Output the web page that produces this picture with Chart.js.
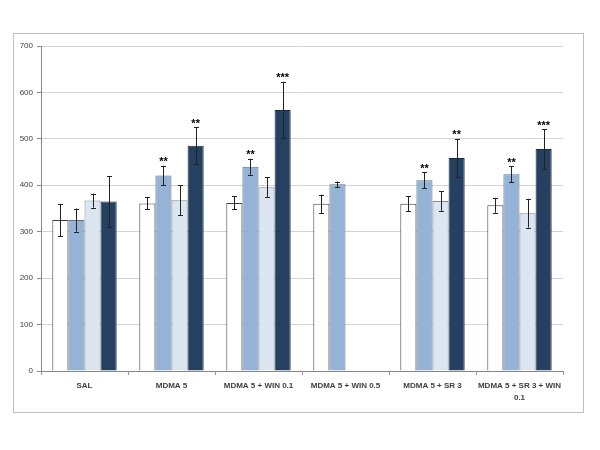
<!DOCTYPE html>
<html>
<head>
<meta charset="utf-8">
<script src="https://cdn.jsdelivr.net/npm/chart.js@4"></script>
<style>
  body { margin: 0; background: #fff; }
  #frame { position: absolute; left: 13px; top: 33px; width: 569px; height: 378px; border: 1px solid #bfbfbf; }
  #chart { position: absolute; left: 0; top: 0; }
</style>
</head>
<body>
<div id="frame"></div>
<canvas id="chart" width="600" height="450"></canvas>
<script>
// Grupos del eje X
const categories = ['SAL', 'MDMA 5', 'MDMA 5 + WIN 0.1', 'MDMA 5 + WIN 0.5', 'MDMA 5 + SR 3', ['MDMA 5 + SR 3 + WIN', '0.1']];

// Valores de cada serie (null = sin barra)
const series1 = [325, 361, 362, 360, 360, 357];
const series2 = [325, 421, 440, 402, 411, 424];
const series3 = [367, 368, 396, null, 366, 340];
const series4 = [365, 485, 562, null, 459, 478];

// Errores (SEM)
const err1 = [35, 13, 14, 20, 16, 16];
const err2 = [25, 21, 17, 6, 17, 17];
const err3 = [15, 32, 21, null, 21, 31];
const err4 = [55, 40, 61, null, 41, 43];

// Marcas de significancia
const stars1 = ['', '', '', '', '', ''];
const stars2 = ['', '**', '**', '', '**', '**'];
const stars3 = ['', '', '', '', '', ''];
const stars4 = ['', '**', '***', '', '**', '***'];

const yTicks = [0, 100, 200, 300, 400, 500, 600, 700];

const errors = [err1, err2, err3, err4];
const stars = [stars1, stars2, stars3, stars4];

// Plugin para barras de error y asteriscos
const errorBarsPlugin = {
    id: 'errorBars',
    afterDatasetsDraw(chart) {
        const ctx = chart.ctx;
        const yScale = chart.scales.y;
        ctx.save();
        chart.data.datasets.forEach((ds, di) => {
            const meta = chart.getDatasetMeta(di);
            meta.data.forEach((bar, i) => {
                const v = ds.data[i];
                const e = errors[di][i];
                if (v == null || e == null) return;
                const x = Math.round(bar.x) + 0.5;
                const yTop = yScale.getPixelForValue(v + e);
                const yBot = yScale.getPixelForValue(v - e);
                ctx.strokeStyle = '#222';
                ctx.lineWidth = 1;
                ctx.beginPath();
                ctx.moveTo(x, yTop);
                ctx.lineTo(x, yBot);
                ctx.moveTo(x - 2.5, Math.round(yTop) + 0.5);
                ctx.lineTo(x + 2.5, Math.round(yTop) + 0.5);
                ctx.moveTo(x - 2.5, Math.round(yBot) + 0.5);
                ctx.lineTo(x + 2.5, Math.round(yBot) + 0.5);
                ctx.stroke();

                const s = stars[di][i];
                if (s) {
                    ctx.fillStyle = '#000';
                    ctx.font = 'bold 11px "Liberation Sans"';
                    ctx.textAlign = 'center';
                    ctx.textBaseline = 'top';
                    ctx.fillText(s, bar.x, yTop - 9);
                }
            });
        });
        ctx.restore();
    }
};

const ctx = document.getElementById('chart').getContext('2d');
new Chart(ctx, {
    type: 'bar',
    data: {
        labels: categories,
        datasets: [
            { data: series1, backgroundColor: '#ffffff', borderColor: '#404040', borderWidth: 1 },
            { data: series2, backgroundColor: '#95b3d7', borderColor: '#5f6f82', borderWidth: 1 },
            { data: series3, backgroundColor: '#dce6f2', borderColor: '#7f8790', borderWidth: 1 },
            { data: series4, backgroundColor: '#254061', borderColor: '#1a2a3f', borderWidth: 1 }
        ]
    },
    options: {
        responsive: false,
        animation: false,
        layout: { padding: { top: 46, right: 37, left: 0, bottom: 0 } },
        datasets: { bar: { categoryPercentage: 0.74, barPercentage: 1.0 } },
        plugins: { legend: { display: false }, tooltip: { enabled: false } },
        scales: {
            x: {
                grid: { drawOnChartArea: false, offset: true, tickLength: 4, color: '#999' },
                border: { color: '#888' },
                ticks: {
                    color: '#404040',
                    padding: 4,
                    maxRotation: 0,
                    autoSkip: false,
                    font: { family: 'Liberation Sans', size: 8, weight: 'bold', lineHeight: 1.6 }
                },
                afterFit(scale) { scale.height = 79; }
            },
            y: {
                min: 0,
                max: 700,
                afterBuildTicks(scale) { scale.ticks = yTicks.map(v => ({ value: v })); },
                grid: { color: '#d4d4d4', tickColor: '#888', tickLength: 4 },
                border: { color: '#888' },
                ticks: {
                    color: '#404040',
                    padding: 4,
                    font: { family: 'Liberation Sans', size: 8 }
                },
                afterFit(scale) { scale.width = 41; }
            }
        }
    },
    plugins: [errorBarsPlugin]
});
</script>
</body>
</html>
